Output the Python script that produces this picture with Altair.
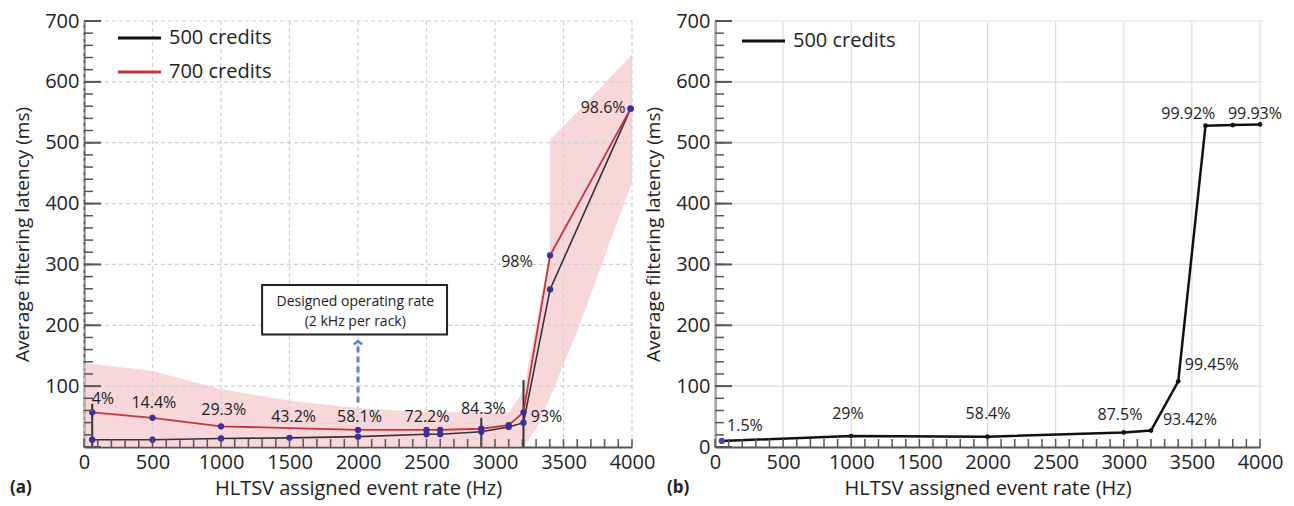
import altair as alt
import pandas as pd

# ---------------- data: panel (a) ----------------
x700 = [60, 500, 1000, 2000, 2500, 2600, 2900, 3100, 3208, 3402, 3990]
y700 = [57, 48, 34, 28, 28, 28, 30, 36, 57, 315, 556]
x500 = [60, 500, 1000, 1500, 2000, 2500, 2600, 2900, 3100, 3208, 3402, 3990]
y500 = [12, 12, 14, 15, 17, 21, 21, 25, 33, 40, 259, 556]

band_x = [0, 500, 1000, 1500, 2000, 2500, 3100, 3150, 3208, 3300, 3399, 3400, 3600, 4000]
band_hi = [138, 125, 95, 76, 64, 57, 57, 72, 95, 200, 320, 504, 550, 645]
band_lo = [0, 0, 0, 0, 0, 0, 0, 0, 0, 30, 80, 80, 190, 435]

err_x = [60, 2900, 3208]
err_top = [71, 48, 110]

lab_a = ["4%", "14.4%", "29.3%", "43.2%", "58.1%", "72.2%", "84.3%", "93%", "98%", "98.6%"]
lab_a_x = [138, 510, 1020, 1530, 2011, 2504, 2915, 3376, 3160, 3789]
lab_a_y = [79, 72, 60, 49, 50, 50, 63, 50, 304, 557]

box_x = [1300]
box_x2 = [2650]
box_y = [185]
box_y2 = [266]
box_text_x = [1980, 1980]
box_text_y = [239, 206]
box_text = ["Designed operating rate", "(2 kHz per rack)"]
arrow_x = [2000]
arrow_y = [73]
arrow_y2 = [174]

# ---------------- data: panel (b) ----------------
xb = [50, 1000, 2000, 3000, 3200, 3400, 3600, 3800, 4000]
yb = [10, 18, 17, 24, 27, 108, 528, 529, 530]
lab_b = ["1.5%", "29%", "58.4%", "87.5%", "93.42%", "99.45%", "99.92%", "99.93%"]
lab_b_x = [220, 976, 2004, 2972, 3486, 3646, 3474, 3963]
lab_b_y = [34, 54, 54, 53, 45, 135, 548, 548]

# ticks / axes
x_ticks = [0, 500, 1000, 1500, 2000, 2500, 3000, 3500, 4000]
x_minor = list(range(0, 4001, 100))
y_minor = list(range(0, 701, 20))
y_major = [0, 100, 200, 300, 400, 500, 600, 700]

W, H = 548, 426
FONT = "Open Sans"
TXT = "#222222"
RED = "#c8323c"
DOT = "#3b2f9e"

xs = alt.Scale(domain=[0, 4000], nice=False, zero=False, padding=0)
ys = alt.Scale(domain=[0, 700], nice=False, padding=0)


def x_axis():
    return alt.Axis(values=x_ticks, title="HLTSV assigned event rate (Hz)", format="d",
                    ticks=False, grid=False, labelFlush=False,
                    labelFontSize=20, titleFontSize=20, labelPadding=5, titlePadding=6,
                    labelColor=TXT, titleColor=TXT, titleFontWeight="normal",
                    domainColor="#555555", domainWidth=2, labelFont=FONT, titleFont=FONT)


def y_axis(vals):
    return alt.Axis(values=vals, title="Average filtering latency (ms)", format="d",
                    ticks=False, grid=False, labelFlush=False,
                    labelFontSize=20, titleFontSize=19, labelPadding=5, titlePadding=12,
                    labelColor=TXT, titleColor=TXT, titleFontWeight="normal",
                    domainColor="#555555", domainWidth=2, labelFont=FONT, titleFont=FONT)


def grid_layers(dash, color):
    gx = pd.DataFrame({"x": x_ticks})
    gy = pd.DataFrame({"y": y_major[1:]})
    g1 = alt.Chart(gx).mark_rule(color=color, strokeWidth=1.2, strokeDash=dash).encode(
        x=alt.X("x:Q", scale=xs), y=alt.value(0), y2=alt.value(H))
    g2 = alt.Chart(gy).mark_rule(color=color, strokeWidth=1.2, strokeDash=dash).encode(
        y=alt.Y("y:Q", scale=ys), x=alt.value(0), x2=alt.value(W))
    return [g1, g2]


def tick_layers():
    xm = pd.DataFrame({"x": x_minor})
    ym = pd.DataFrame({"y": y_minor})
    yM = pd.DataFrame({"y": y_major})
    t1 = alt.Chart(xm).mark_rule(color="#555555", strokeWidth=1.5).encode(
        x=alt.X("x:Q", scale=xs), y=alt.value(H), y2=alt.value(H - 8))
    t2 = alt.Chart(ym).mark_rule(color="#555555", strokeWidth=1.5).encode(
        y=alt.Y("y:Q", scale=ys), x=alt.value(0), x2=alt.value(9))
    t3 = alt.Chart(yM).mark_rule(color="#555555", strokeWidth=2).encode(
        y=alt.Y("y:Q", scale=ys), x=alt.value(0), x2=alt.value(17))
    return [t1, t2, t3]


def legend_layers(entries, x0, y0, dy):
    layers = []
    for k, (name, col) in enumerate(entries):
        d = pd.DataFrame({"t": [name]})
        layers.append(alt.Chart(d).mark_rule(color=col, strokeWidth=3).encode(
            x=alt.value(x0), x2=alt.value(x0 + 43), y=alt.value(y0 + k * dy)))
        layers.append(alt.Chart(d).mark_text(fontSize=20, font=FONT, color=TXT, align="left",
                                             baseline="middle").encode(
            x=alt.value(x0 + 51), y=alt.value(y0 + k * dy), text="t:N"))
    return layers


# ---------------- panel (a) ----------------
band_df = pd.DataFrame({"x": band_x, "hi": band_hi, "lo": band_lo})
l500 = pd.DataFrame({"x": x500, "y": y500})
l700 = pd.DataFrame({"x": x700, "y": y700})
allpts = pd.concat([l500, l700])
err_df = pd.DataFrame({"x": err_x, "top": err_top, "bot": [0] * len(err_x)})
lab_a_df = pd.DataFrame({"x": lab_a_x, "y": lab_a_y, "t": lab_a})
box_df = pd.DataFrame({"x": box_x, "x2": box_x2, "y": box_y, "y2": box_y2})
boxt_df = pd.DataFrame({"x": box_text_x, "y": box_text_y, "t": box_text})
arrow_df = pd.DataFrame({"x": arrow_x, "y": arrow_y, "y2": arrow_y2})

band = alt.Chart(band_df).mark_area(color="#f3bcc2", opacity=0.6).encode(
    x=alt.X("x:Q", scale=xs, axis=x_axis()),
    y=alt.Y("hi:Q", scale=ys, axis=y_axis([100, 200, 300, 400, 500, 600, 700])),
    y2="lo:Q",
)

err = alt.Chart(err_df).mark_rule(color="#333333", strokeWidth=2).encode(
    x=alt.X("x:Q", scale=xs), y=alt.Y("top:Q", scale=ys), y2="bot:Q")

line500 = alt.Chart(l500).mark_line(strokeWidth=1.6, color="#333333").encode(
    x=alt.X("x:Q", scale=xs), y=alt.Y("y:Q", scale=ys))
line700 = alt.Chart(l700).mark_line(strokeWidth=1.8, color=RED).encode(
    x=alt.X("x:Q", scale=xs), y=alt.Y("y:Q", scale=ys))
pts_a = alt.Chart(allpts).mark_circle(size=40, color=DOT, opacity=1).encode(
    x=alt.X("x:Q", scale=xs), y=alt.Y("y:Q", scale=ys))

txt_a = alt.Chart(lab_a_df).mark_text(fontSize=16, font=FONT, color=TXT).encode(
    x=alt.X("x:Q", scale=xs), y=alt.Y("y:Q", scale=ys), text="t:N")

box = alt.Chart(box_df).mark_rect(fill="white", stroke="#222222", strokeWidth=2).encode(
    x=alt.X("x:Q", scale=xs), x2="x2:Q", y=alt.Y("y:Q", scale=ys), y2="y2:Q")
boxt = alt.Chart(boxt_df).mark_text(fontSize=14, font=FONT, color=TXT).encode(
    x=alt.X("x:Q", scale=xs), y=alt.Y("y:Q", scale=ys), text="t:N")
arrow = alt.Chart(arrow_df).mark_rule(color="#5b84c4", strokeWidth=3, strokeDash=[6, 4]).encode(
    x=alt.X("x:Q", scale=xs), y=alt.Y("y:Q", scale=ys), y2="y2:Q")
head = alt.Chart(arrow_df).mark_point(shape="M-1,0.8L0,0L1,0.8", filled=False, size=70,
                                      color="#5b84c4", strokeWidth=2.5, opacity=1).encode(
    x=alt.X("x:Q", scale=xs), y=alt.Y("y2:Q", scale=ys))

tag_a = alt.Chart(pd.DataFrame({"t": ["(a)"]})).mark_text(
    fontSize=17, fontWeight="bold", font=FONT, color=TXT, align="left", baseline="middle").encode(
    x=alt.value(-74), y=alt.value(H + 41), text="t:N")

left = alt.layer(band, *grid_layers([4, 3], "#cfcfcf"), err, line500, line700, pts_a, txt_a,
                 box, boxt, arrow, head, tag_a, *tick_layers(),
                 *legend_layers([("500 credits", "#111111"), ("700 credits", RED)], 34, 17, 34)
                 ).properties(width=W, height=H)

# ---------------- panel (b) ----------------
lines_b = pd.DataFrame({"x": xb, "y": yb})
first_b = pd.DataFrame({"x": xb[:1], "y": yb[:1]})
lab_b_df = pd.DataFrame({"x": lab_b_x, "y": lab_b_y, "t": lab_b})

line_b = alt.Chart(lines_b).mark_line(strokeWidth=2.5, color="#111111").encode(
    x=alt.X("x:Q", scale=xs, axis=x_axis()),
    y=alt.Y("y:Q", scale=ys, axis=y_axis(y_major)),
)
pts_b = alt.Chart(lines_b).mark_circle(size=22, color="#111111", opacity=1).encode(
    x=alt.X("x:Q", scale=xs), y=alt.Y("y:Q", scale=ys))
pt_first = alt.Chart(first_b).mark_circle(size=40, color="#4a4aa8", opacity=1).encode(
    x=alt.X("x:Q", scale=xs), y=alt.Y("y:Q", scale=ys))
txt_b = alt.Chart(lab_b_df).mark_text(fontSize=16, font=FONT, color=TXT).encode(
    x=alt.X("x:Q", scale=xs), y=alt.Y("y:Q", scale=ys), text="t:N")
tag_b = alt.Chart(pd.DataFrame({"t": ["(b)"]})).mark_text(
    fontSize=17, fontWeight="bold", font=FONT, color=TXT, align="left", baseline="middle").encode(
    x=alt.value(-48), y=alt.value(H + 41), text="t:N")

right = alt.layer(*grid_layers([1, 0], "#dddddd"), line_b, pts_b, pt_first, txt_b, tag_b,
                  *tick_layers(),
                  *legend_layers([("500 credits", "#111111")], 27, 20, 34)
                  ).properties(width=W - 3, height=H)

chart = alt.hconcat(left, right, spacing=83, bounds="flush").properties(
    padding={"left": 2, "top": 3, "right": 0, "bottom": 4}
).configure(font=FONT).configure_view(stroke=None)

chart.save("out.html", embed_options={"renderer": "svg", "actions": False})
